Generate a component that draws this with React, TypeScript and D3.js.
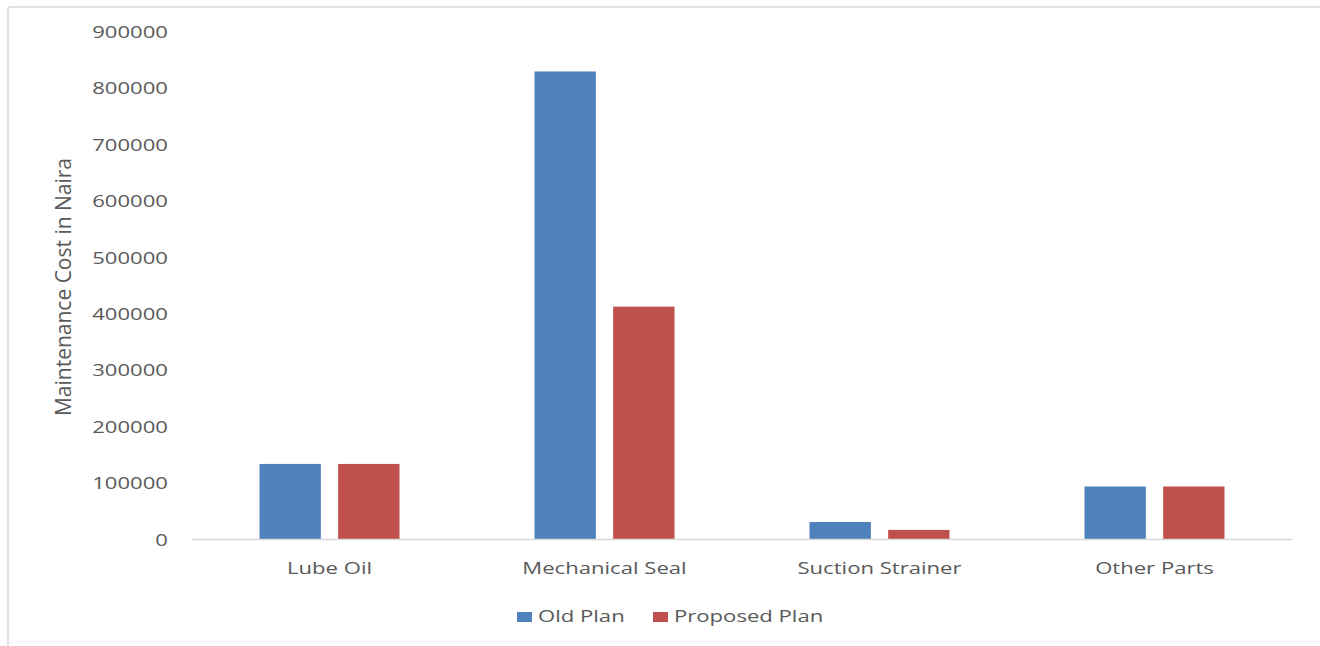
import * as React from "react";
import * as d3 from "d3";

const categories = ["Lube Oil", "Mechanical Seal", "Suction Strainer", "Other Parts"];
const seriesNames = ["Old Plan", "Proposed Plan"];
const oldPlan = [134000, 830000, 31000, 94000];
const proposedPlan = [134000, 413000, 17000, 94000];
const yTicks = [0, 100000, 200000, 300000, 400000, 500000, 600000, 700000, 800000, 900000];

const colors = ["#4F81BD", "#C0504D"];
const textColor = "#595959";
const font = "'Open Sans', 'Liberation Sans', sans-serif";
const SX = 1.3; // source image is stretched sideways

const W = 1320, H = 646;
const margin = { top: 32, right: 28, bottom: 106.5, left: 192 };

function SText(props: any) {
  const { x, y, anchor, size, children, baseline } = props;
  return (
    <text
      transform={`translate(${x},${y}) scale(${SX},1)`}
      textAnchor={anchor || "start"}
      dominantBaseline={baseline || "auto"}
      fontSize={size || 17}
      fontFamily={font}
      fill={textColor}
    >
      {children}
    </text>
  );
}

export default function App() {
  const innerW = W - margin.left - margin.right;
  const innerH = H - margin.top - margin.bottom;

  const x0 = d3.scaleBand().domain(categories).range([0, innerW]);
  const x1 = d3.scaleBand().domain(seriesNames).range([-70, 70]).paddingInner(0.22);
  const y = d3.scaleLinear().domain([0, 900000]).range([innerH, 0]);

  const series = [oldPlan, proposedPlan];

  return (
    <svg width={W} height={H} style={{ position: "absolute", left: 0, top: 0, background: "#fff" }}>
      {/* outer frame */}
      <line x1={8} y1={7} x2={W} y2={7} stroke="#d9d9d9" strokeWidth={1.5} />
      <line x1={8} y1={7} x2={8} y2={H} stroke="#d9d9d9" strokeWidth={1.5} />
      <line x1={8} y1={642} x2={W} y2={642} stroke="#f0f0f0" strokeWidth={1} />

      <g transform={`translate(${margin.left},${margin.top})`}>
        {yTicks.map((t) => (
          <SText key={t} x={-24} y={y(t) + 1.5} anchor="end" baseline="middle">
            {t}
          </SText>
        ))}

        {categories.map((c, i) => (
          <g key={c} transform={`translate(${(x0(c) as number) + x0.bandwidth() / 2},0)`}>
            {seriesNames.map((s, j) => (
              <rect
                key={s}
                x={x1(s) as number}
                y={y(series[j][i])}
                width={x1.bandwidth()}
                height={innerH - y(series[j][i])}
                fill={colors[j]}
              />
            ))}
            <SText x={0} y={innerH + 34} anchor="middle">
              {c}
            </SText>
          </g>
        ))}

        <line x1={0} x2={innerW} y1={innerH} y2={innerH} stroke="#d9d9d9" strokeWidth={1.5} />
      </g>

      {/* y axis title */}
      <text
        transform="translate(71,287) rotate(-90) scale(1,1.05)"
        textAnchor="middle"
        fontSize={21}
        fontFamily={font}
        fill={textColor}
      >
        Maintenance Cost in Naira
      </text>

      {/* legend */}
      {seriesNames.map((s, j) => {
        const lx = [517, 653][j];
        return (
          <g key={s}>
            <rect x={lx} y={612} width={15} height={10} fill={colors[j]} />
            <SText x={lx + 21} y={622}>
              {s}
            </SText>
          </g>
        );
      })}
    </svg>
  );
}
